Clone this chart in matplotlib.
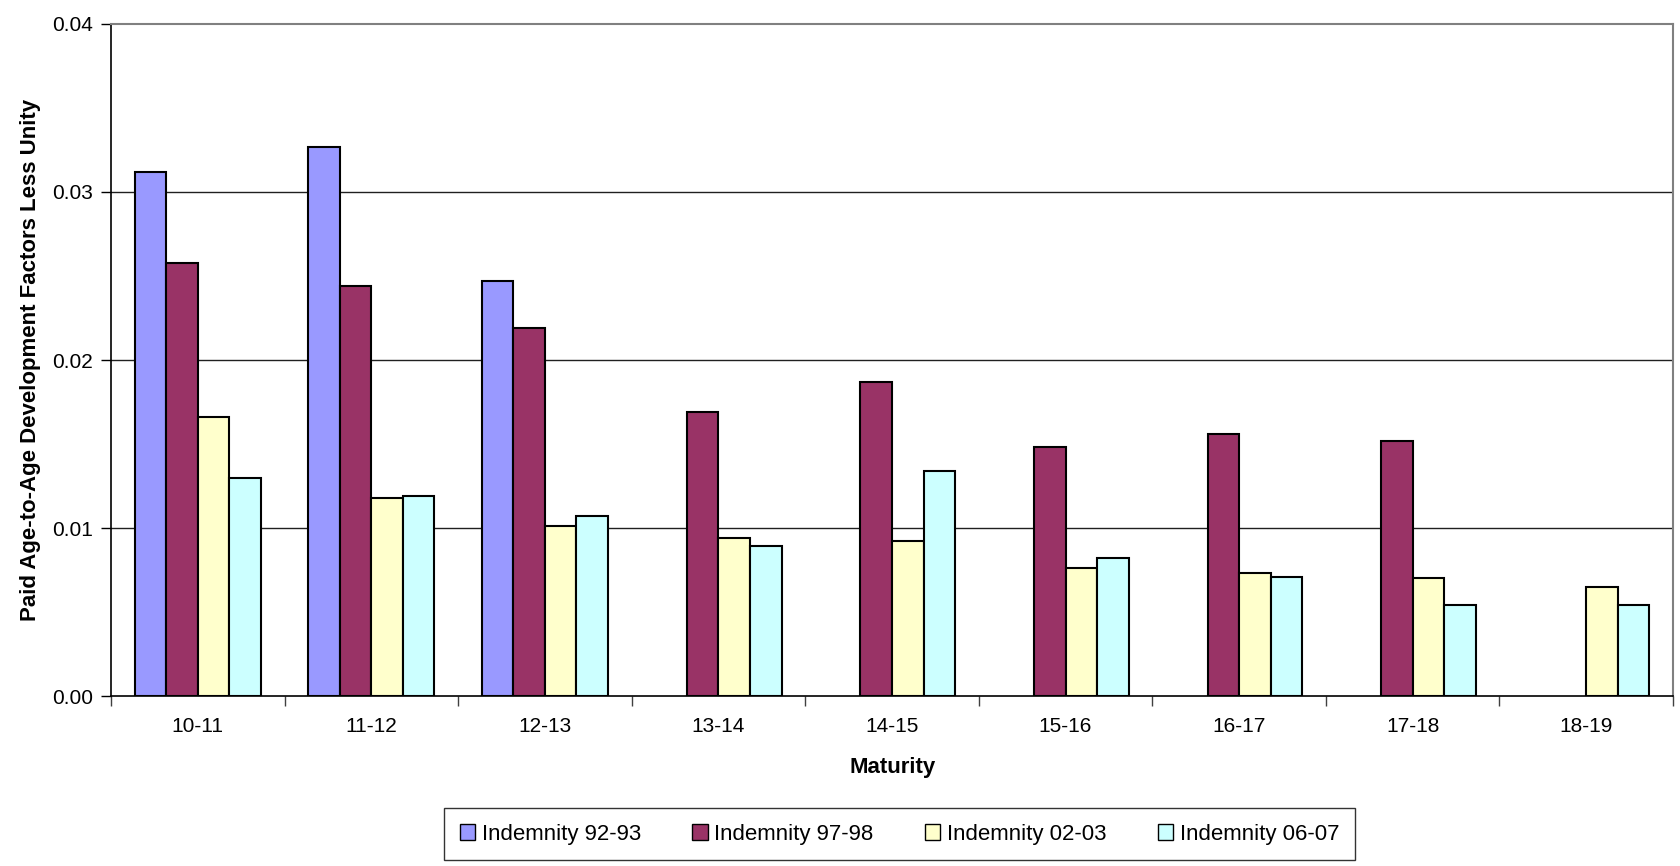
import matplotlib
matplotlib.use("Agg")
import matplotlib.pyplot as plt
import numpy as np

plt.rcParams['font.family'] = ['Liberation Sans', 'DejaVu Sans']

maturities = ["10-11", "11-12", "12-13", "13-14", "14-15", "15-16", "16-17", "17-18", "18-19"]
series_names = ["Indemnity 92-93", "Indemnity 97-98", "Indemnity 02-03", "Indemnity 06-07"]
indemnity_92_93 = [0.0312, 0.0327, 0.0247, np.nan, np.nan, np.nan, np.nan, np.nan, np.nan]
indemnity_97_98 = [0.0258, 0.0244, 0.0219, 0.0169, 0.0187, 0.0148, 0.0156, 0.0152, np.nan]
indemnity_02_03 = [0.0166, 0.0118, 0.0101, 0.0094, 0.0092, 0.0076, 0.0073, 0.0070, 0.0065]
indemnity_06_07 = [0.0130, 0.0119, 0.0107, 0.0089, 0.0134, 0.0082, 0.0071, 0.0054, 0.0054]
colors = ["#9999FF", "#993366", "#FFFFCC", "#CCFFFF"]
y_ticks = [0.00, 0.01, 0.02, 0.03, 0.04]

series = [indemnity_92_93, indemnity_97_98, indemnity_02_03, indemnity_06_07]

fig = plt.figure(figsize=(16.8, 8.66), dpi=100)
ax = fig.add_axes([0.06607, 0.19630, 0.92976, 0.77599])

x = np.arange(len(maturities))
n = len(series)
bar_w = 1.0 / (n + 1.5)
for i, (vals, name, c) in enumerate(zip(series, series_names, colors)):
    offs = (i - (n - 1) / 2) * bar_w
    ax.bar(x + offs, vals, width=bar_w, color=c, edgecolor="black",
           linewidth=1.5, label=name, zorder=3)

ax.set_xlim(-0.5, len(maturities) - 0.5)
ax.set_ylim(0, 0.04)
ax.set_yticks(y_ticks)
ax.set_yticklabels([f"{v:.2f}" for v in y_ticks])
for v in y_ticks[1:-1]:
    ax.axhline(v, color="#202020", linewidth=1.0, zorder=1)

ax.set_xticks(x)
ax.set_xticklabels(maturities)
ax.set_xticks(np.arange(-0.5, len(maturities)), minor=True)
ax.tick_params(axis="x", which="major", length=0, pad=15, labelsize=15)
ax.tick_params(axis="x", which="minor", length=7, width=1, direction="out", color="#404040")
ax.tick_params(axis="y", length=7, width=1, direction="out", pad=6, labelsize=15)

for side in ("top", "right"):
    ax.spines[side].set_color("#808080")
    ax.spines[side].set_linewidth(1.5)
for side in ("left", "bottom"):
    ax.spines[side].set_color("black")
    ax.spines[side].set_linewidth(1.2)

fig.text(0.0180, 0.5843, "Paid Age-to-Age Development Factors Less Unity",
         rotation=90, ha="center", va="center", fontsize=16, fontweight="bold")
fig.text(0.5315, 0.1143, "Maturity", ha="center", va="center",
         fontsize=16, fontweight="bold")

leg = fig.legend(loc="center", bbox_to_anchor=(0.5354, 0.0369), ncol=4,
                 fontsize=16, frameon=True, fancybox=False, handlelength=0.7,
                 handleheight=0.7, handletextpad=0.3, columnspacing=2.3,
                 borderpad=0.7)
leg.get_frame().set_edgecolor("black")
leg.get_frame().set_linewidth(1.0)
for h in leg.legend_handles:
    h.set_linewidth(1.0)

fig.savefig("out.png", dpi=100)
